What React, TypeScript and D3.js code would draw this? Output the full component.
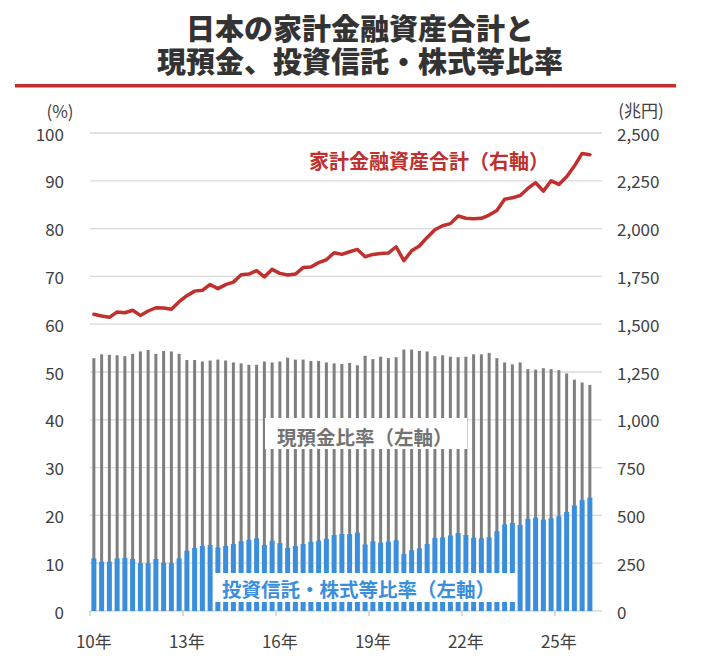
import * as d3 from 'd3';

// quarterly series, 2010Q1 onward
const quarters = d3.range(65).map((i) => `${2010 + Math.floor(i / 4)}Q${(i % 4) + 1}`);

const yearLabels = ['10年', '13年', '16年', '19年', '22年', '25年'];

// 家計金融資産合計 (兆円, right axis)
const totalAssets = [
  1552, 1543, 1536, 1564, 1560, 1573, 1546, 1569, 1586, 1585,
  1578, 1618, 1649, 1673, 1677, 1708, 1686, 1707, 1720, 1759,
  1762, 1780, 1747, 1787, 1766, 1757, 1762, 1796, 1799, 1822,
  1837, 1874, 1865, 1879, 1891, 1853, 1865, 1870, 1872, 1905,
  1832, 1884, 1909, 1954, 1994, 2015, 2026, 2066, 2054, 2052,
  2054, 2071, 2095, 2154, 2161, 2173, 2210, 2240, 2196, 2250,
  2231, 2271, 2327, 2393, 2386,
];

// 現預金比率 (%, left axis)
const cashRatio = [
  52.9, 53.7, 53.6, 53.5, 53.3, 53.8, 54.3, 54.6, 53.8, 54.4,
  54.3, 53.8, 52.5, 52.5, 52.2, 52.4, 52.6, 52.4, 52.0, 51.8,
  51.5, 51.5, 52.2, 52.0, 52.2, 53.0, 52.6, 52.6, 52.3, 52.3,
  52.0, 51.8, 51.7, 51.9, 51.4, 53.4, 52.7, 53.2, 52.9, 53.1,
  54.7, 54.7, 54.4, 54.3, 53.3, 53.5, 53.2, 53.1, 53.2, 53.7,
  53.7, 54.0, 52.9, 52.0, 51.6, 52.0, 50.6, 50.5, 50.8, 50.6,
  50.4, 49.7, 48.4, 47.8, 47.3,
];

// 投資信託・株式等比率 (%, left axis)
const investRatio = [
  11.0, 10.3, 10.3, 11.0, 11.1, 10.9, 10.0, 10.0, 10.9, 10.1,
  10.0, 11.0, 12.6, 13.2, 13.6, 13.8, 13.3, 13.6, 14.0, 14.6,
  14.9, 15.2, 13.8, 14.7, 14.2, 13.2, 13.6, 14.0, 14.5, 14.7,
  15.1, 15.9, 16.1, 16.1, 16.4, 13.9, 14.6, 14.3, 14.5, 14.8,
  11.9, 12.7, 13.1, 14.0, 15.3, 15.4, 15.8, 16.3, 15.9, 15.3,
  15.2, 15.4, 16.7, 18.1, 18.4, 18.0, 19.3, 19.5, 19.1, 19.4,
  19.8, 20.7, 22.1, 23.2, 23.7,
];

const leftTicks = d3.range(0, 101, 10);
const rightTicks = d3.range(0, 2501, 250);

const W = 719;
const H = 661;
const plot = { left: 90, right: 602, top: 133, bottom: 611 };
const font = '"Noto Sans CJK JP", "Noto Sans", sans-serif';

const RED = '#c0302e';
const GREY = '#7f7f7f';
const BLUE = '#3a8edb';
const TEXT = '#404040';

export default function App() {
  const band = 7.75;
  const x = d3
    .scaleBand<string>()
    .domain(quarters)
    .range([plot.left, plot.left + band * quarters.length])
    .padding(0);
  const yL = d3.scaleLinear().domain([0, 100]).range([plot.bottom, plot.top]);
  const yR = d3.scaleLinear().domain([0, 2500]).range([plot.bottom, plot.top]);

  const cx = (i: number) => (x(quarters[i]) ?? 0) + x.bandwidth() / 2;

  const line = d3
    .line<number>()
    .x((_, i) => cx(i))
    .y((d) => yR(d));

  const fmt = d3.format(',');

  return (
    <svg
      width={W}
      height={H}
      style={{ position: 'absolute', left: 0, top: 0, background: '#fff' }}
      fontFamily={font}
    >
      {/* title */}
      <text x={360} y={40} textAnchor="middle" fontSize={29} fontWeight={900} fill="#333">
        日本の家計金融資産合計と
      </text>
      <text x={360} y={73} textAnchor="middle" fontSize={29} fontWeight={900} fill="#333">
        現預金、投資信託・株式等比率
      </text>
      <line x1={15} x2={676} y1={85.7} y2={85.7} stroke={RED} strokeWidth={3.5} />

      {/* unit labels */}
      <text x={60} y={110} textAnchor="middle" dominantBaseline="central" fontSize={17} fill={TEXT}>
        (%)
      </text>
      <text x={641} y={109} textAnchor="middle" dominantBaseline="central" fontSize={17} fill={TEXT}>
        (兆円)
      </text>

      {/* grid */}
      {leftTicks.map((t) => (
        <line
          key={'g' + t}
          x1={plot.left}
          x2={plot.right}
          y1={yL(t)}
          y2={yL(t)}
          stroke="#d9d9d9"
          strokeWidth={1.3}
        />
      ))}
      {leftTicks.map((t) => (
        <text
          key={'l' + t}
          x={64}
          y={yL(t)}
          textAnchor="end"
          dominantBaseline="central"
          fontSize={17}
          fill={TEXT}
        >
          {t}
        </text>
      ))}
      {rightTicks.map((t) => (
        <text
          key={'r' + t}
          x={617}
          y={yR(t)}
          textAnchor="start"
          dominantBaseline="central"
          fontSize={17}
          fill={TEXT}
        >
          {fmt(t)}
        </text>
      ))}

      {/* bars */}
      {cashRatio.map((v, i) => (
        <rect
          key={'c' + i}
          x={cx(i) - 1.5}
          width={3}
          y={yL(v)}
          height={yL(0) - yL(v)}
          fill={GREY}
        />
      ))}
      {investRatio.map((v, i) => (
        <rect
          key={'v' + i}
          x={cx(i) - 2.5}
          width={5}
          y={yL(v)}
          height={yL(0) - yL(v)}
          fill={BLUE}
        />
      ))}

      {/* x axis ticks + labels */}
      {yearLabels.map((lab, k) => {
        const q = quarters[k * 12];
        const x0 = x(q) ?? 0;
        return (
          <g key={lab}>
            <line x1={x0} x2={x0} y1={plot.bottom} y2={plot.bottom + 5} stroke="#bfbfbf" strokeWidth={1.2} />
            <text
              x={x0 + x.bandwidth() / 2}
              y={640}
              textAnchor="middle"
              dominantBaseline="central"
              fontSize={17}
              fill={TEXT}
            >
              {lab}
            </text>
          </g>
        );
      })}

      {/* total assets line */}
      <path
        d={line(totalAssets) ?? ''}
        fill="none"
        stroke={RED}
        strokeWidth={3.5}
        strokeLinejoin="round"
        strokeLinecap="round"
      />

      {/* series labels */}
      <text x={309} y={160} dominantBaseline="central" fontSize={20} fontWeight="bold" fill={RED}>
        家計金融資産合計（右軸）
      </text>

      <rect x={265} y={418} width={202} height={31} fill="#fff" />
      <text x={277} y={436.5} dominantBaseline="central" fontSize={19.5} fontWeight="bold" fill="#737373">
        現預金比率（左軸）
      </text>

      <rect x={213} y={573} width={302} height={29} fill="#fff" />
      <text x={222} y={588} dominantBaseline="central" fontSize={19.5} fontWeight="bold" fill={BLUE}>
        投資信託・株式等比率（左軸）
      </text>
    </svg>
  );
}
